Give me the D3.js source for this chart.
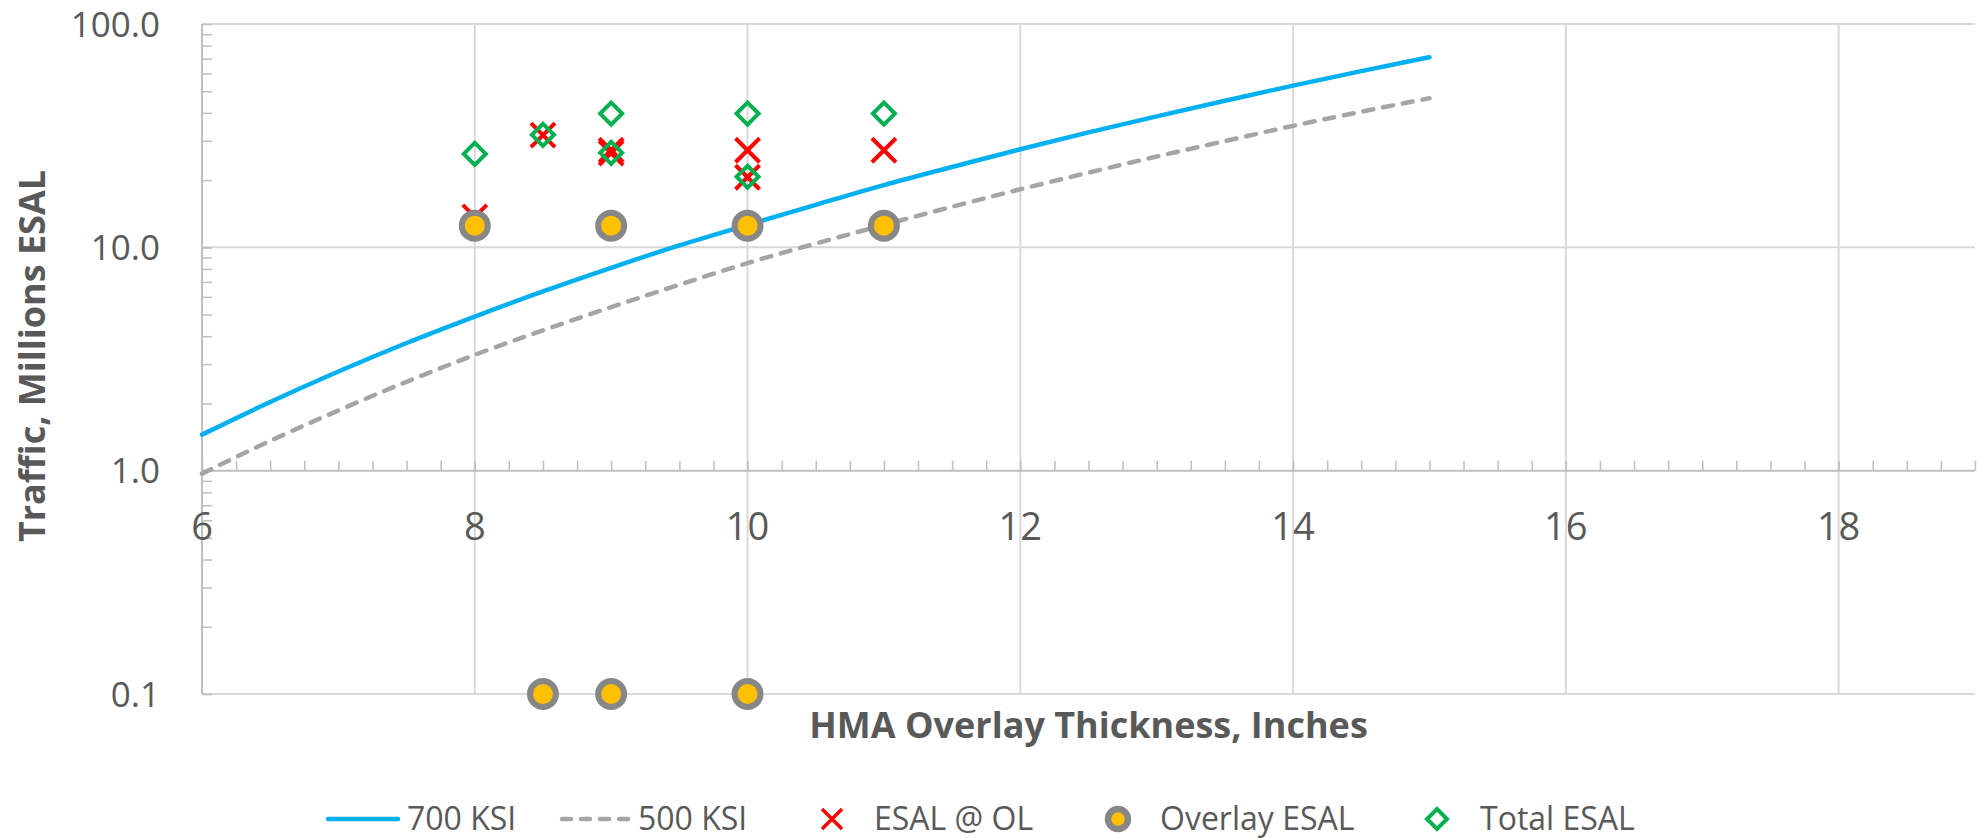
<!DOCTYPE html>
<html><head><meta charset="utf-8">
<script src="https://cdn.jsdelivr.net/npm/d3@7"></script>
<style>
body{margin:0;background:#fff}
text{font-family:'Open Sans',sans-serif;fill:#595959}
</style>
</head><body>
<svg id="chart" width="1977" height="838"></svg>
<script>
// ---- data ----
const curveX   = [6,6.5,7,7.5,8,8.5,9,9.5,10,10.5,11,11.5,12,12.5,13,13.5,14,14.5,15];
const ksi700   = [1.45,2.03,2.78,3.73,4.9,6.35,8.1,10.2,12.6,15.5,19.0,22.9,27.5,32.7,38.6,45.3,53,61.5,71];
const ksi500   = [0.97,1.36,1.86,2.5,3.3,4.25,5.4,6.8,8.5,10.4,12.6,15.2,18.2,21.6,25.5,29.9,35,40.5,46.5];
const esalOLX  = [8,8.5,9,9,10,10,11];
const esalOL   = [13.7,31.8,27.2,26.4,27.2,20.6,27.2];
const overlayX = [8,9,10,11,8.5,9,10];
const overlay  = [12.5,12.5,12.5,12.5,0.1,0.1,0.1];
const totalX   = [8,8.5,9,9,10,10,11];
const total    = [26.2,31.9,39.7,26.5,39.7,20.7,39.7];
const xTicks   = [6,8,10,12,14,16,18];
const yTicks   = [0.1,1,10,100];
const yTickLabels = ["0.1","1.0","10.0","100.0"];
const legendLabels = ["700 KSI","500 KSI","ESAL @ OL","Overlay ESAL","Total ESAL"];
const xTitle = "HMA Overlay Thickness, Inches";
const yTitle = "Traffic, Millions ESAL";

// ---- layout ----
const L=202, R=1975, T=24, B=694;
const svg = d3.select("#chart");
const x = d3.scaleLinear().domain([6,19]).range([L,R]);
const y = d3.scaleLog().domain([0.1,100]).range([B,T]);

const BLUE="#00B0F0", GRAY="#A5A5A5", RED="#FF0000", GREEN="#00B050", YEL="#FFC000", CGRAY="#878787";
const GRID="#d9d9d9", AXIS="#bfbfbf";

// gridlines
const g = svg.append("g");
g.selectAll("line.vg").data(xTicks.filter(d=>d!==6)).join("line")
  .attr("x1",d=>x(d)).attr("x2",d=>x(d)).attr("y1",T).attr("y2",B)
  .attr("stroke",GRID).attr("stroke-width",2);
g.selectAll("line.hg").data(yTicks.filter(d=>d!==1)).join("line")
  .attr("x1",L).attr("x2",R).attr("y1",d=>y(d)).attr("y2",d=>y(d))
  .attr("stroke",GRID).attr("stroke-width",2);

// y minor ticks (inside)
const yMinor = [];
[0.1,1,10].forEach(dec=>{ for(let k=1;k<=10;k++) yMinor.push(+(dec*k).toPrecision(3)); });
const yAx = svg.append("g").attr("transform",`translate(${L},0)`)
  .call(d3.axisRight(y).tickValues(yMinor).tickSize(10).tickFormat(""));
yAx.select(".domain").remove();
yAx.selectAll("line").attr("stroke",AXIS).attr("stroke-width",1.5);

// x minor ticks (upward) on the axis at y=1
const xMinor = d3.range(6,19.001,0.25);
const xAx = svg.append("g").attr("transform",`translate(0,${y(1)})`)
  .call(d3.axisTop(x).tickValues(xMinor).tickSize(10).tickFormat(""));
xAx.select(".domain").remove();
xAx.selectAll("line").attr("stroke",AXIS).attr("stroke-width",1.5);

// axis lines
svg.append("line").attr("x1",L).attr("x2",R).attr("y1",y(1)).attr("y2",y(1)).attr("stroke",AXIS).attr("stroke-width",2);
svg.append("line").attr("x1",L).attr("x2",L).attr("y1",T).attr("y2",B).attr("stroke",AXIS).attr("stroke-width",2);

// tick labels
svg.selectAll("text.yl").data(yTicks).join("text")
  .attr("x",160).attr("y",d=>y(d)).attr("dy","0.36em")
  .attr("text-anchor","end").attr("font-size",35)
  .text((d,i)=>yTickLabels[i]);
svg.selectAll("text.xl").data(xTicks).join("text")
  .attr("x",d=>x(d)).attr("y",540)
  .attr("text-anchor","middle").attr("font-size",38)
  .text(d=>d);

// titles
svg.append("text").attr("x",(L+R)/2).attr("y",738).attr("text-anchor","middle")
  .attr("font-size",36).attr("font-weight","bold").text(xTitle);
svg.append("text").attr("transform","translate(45,356) rotate(-90)").attr("text-anchor","middle")
  .attr("font-size",36).attr("font-weight","bold").text(yTitle);

// lines
const line = d3.line().x(d=>x(d[0])).y(d=>y(d[1])).curve(d3.curveMonotoneX);
svg.append("path").datum(curveX.map((v,i)=>[v,ksi700[i]])).attr("d",line)
  .attr("fill","none").attr("stroke",BLUE).attr("stroke-width",4.5).attr("stroke-linecap","round");
svg.append("path").datum(curveX.map((v,i)=>[v,ksi500[i]])).attr("d",line)
  .attr("fill","none").attr("stroke",GRAY).attr("stroke-width",4.5).attr("stroke-linecap","round")
  .attr("stroke-dasharray","10,10");

// marker helpers
function xMark(sel,s){ return sel.attr("d",`M${-s},${-s}L${s},${s}M${-s},${s}L${s},${-s}`); }
function diamond(sel,s){ return sel.attr("d",`M0,${-s}L${s},0L0,${s}L${-s},0Z`); }

// ESAL @ OL
svg.append("g").selectAll("path").data(esalOLX.map((v,i)=>[v,esalOL[i]])).join("path")
  .attr("transform",d=>`translate(${x(d[0])},${y(d[1])})`)
  .call(xMark,12).attr("fill","none").attr("stroke",RED).attr("stroke-width",4);
// Overlay ESAL
svg.append("g").selectAll("circle").data(overlayX.map((v,i)=>[v,overlay[i]])).join("circle")
  .attr("cx",d=>x(d[0])).attr("cy",d=>y(d[1])).attr("r",13)
  .attr("fill",YEL).attr("stroke",CGRAY).attr("stroke-width",6);
// Total ESAL
svg.append("g").selectAll("path").data(totalX.map((v,i)=>[v,total[i]])).join("path")
  .attr("transform",d=>`translate(${x(d[0])},${y(d[1])})`)
  .call(diamond,11).attr("fill","none").attr("stroke",GREEN).attr("stroke-width",4);

// legend
const ly=819, lb=830;
const lg = svg.append("g");
lg.append("line").attr("x1",328).attr("x2",398).attr("y1",ly).attr("y2",ly)
  .attr("stroke",BLUE).attr("stroke-width",4.5).attr("stroke-linecap","round");
lg.append("line").attr("x1",562).attr("x2",632).attr("y1",ly).attr("y2",ly)
  .attr("stroke",GRAY).attr("stroke-width",4.5).attr("stroke-linecap","round").attr("stroke-dasharray","9,10");
lg.append("path").attr("transform",`translate(832,${ly})`).call(xMark,10)
  .attr("fill","none").attr("stroke",RED).attr("stroke-width",3.5);
lg.append("circle").attr("cx",1118).attr("cy",ly).attr("r",10)
  .attr("fill",YEL).attr("stroke",CGRAY).attr("stroke-width",6.5);
lg.append("path").attr("transform",`translate(1437,${ly})`).call(diamond,10)
  .attr("fill","none").attr("stroke",GREEN).attr("stroke-width",4);
const lx=[407,638,874,1160,1480];
lg.selectAll("text").data(legendLabels).join("text")
  .attr("x",(d,i)=>lx[i]).attr("y",lb).attr("font-size",32).text(d=>d);
</script>
</body></html>
